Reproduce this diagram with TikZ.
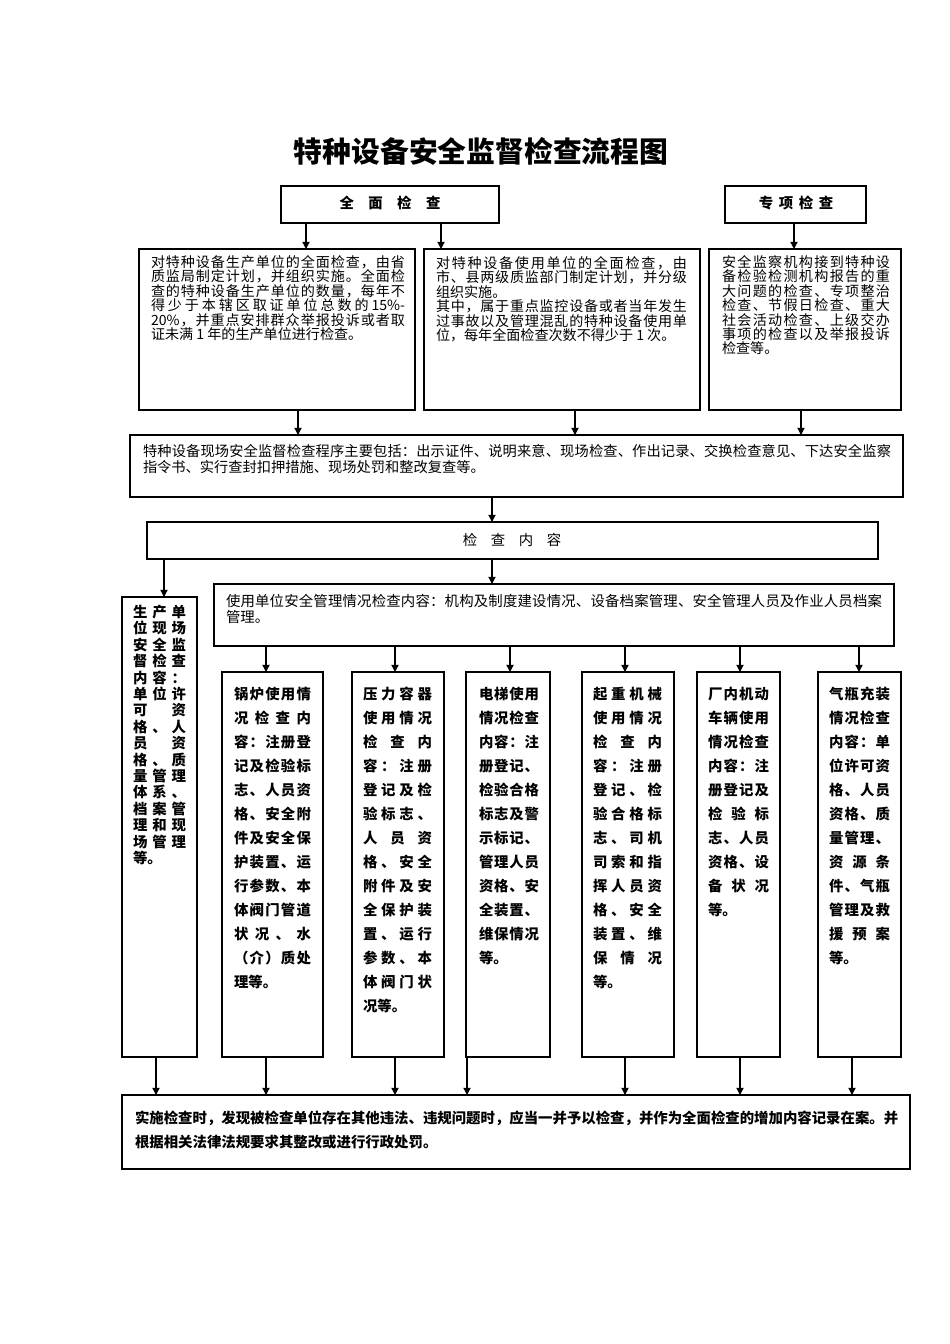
\documentclass[tikz,border=0pt]{standalone}
\usepackage{fontspec}
\setmainfont{Noto Sans CJK SC}
\usetikzlibrary{arrows.meta,fit}
\newdimen\px \px=0.625pt
\def\JLend{JLEND}
\def\JL#1{\hbox to\hsize{\JLa#1\JLend}}
\def\JLa#1{#1\JLb}
\def\JLb#1{\ifx\JLend#1\else\hfill#1\expandafter\JLb\fi}
\def\NL#1{\hbox to\hsize{#1\hfil}}
\newcommand\TB[3]{\vtop{\hsize=#2\px\baselineskip=#1\px\lineskiplimit=-100pt\lineskip=0pt\relax#3}}
\tikzset{
  boxn/.style={draw, line width=0.8pt, inner sep=0pt, outer sep=0pt},
  arr/.style={-{Triangle[length=4.5pt,width=4.5pt]}, line width=0.8pt},
  txt/.style={inner sep=0pt, outer sep=0pt, anchor=base west},
  nine/.style={font=\fontsize{9pt}{11pt}\selectfont},
  nineb/.style={font=\fontsize{9pt}{11pt}\selectfont\bfseries},
  para/.style={font=\fontsize{8.8pt}{11pt}\selectfont},
}
\begin{document}
\begin{tikzpicture}[x=0.625pt,y=-0.625pt]
\useasboundingbox (0,0) rectangle (950,1344);
\fill[white] (0,0) rectangle (950,1344);

% title
\node[inner sep=0pt, font=\fontsize{18pt}{22pt}\selectfont\bfseries] (title) at (481,151) {特种设备安全监督检查流程图};

% top boxes
\node[boxn, fit={(281,186)(499,223)}] (qm) {};
\node[nineb, inner sep=0pt] (qmt) at (390,203) {全\hspace{9pt}面\hspace{9pt}检\hspace{9pt}查};
\node[boxn, fit={(725,186)(866,223)}] (zx) {};
\node[nineb, inner sep=0pt] (zxt) at (796,203) {专\hspace{3.5pt}项\hspace{3.5pt}检\hspace{3.5pt}查};

% row 2
\node[boxn, fit={(139,249)(415,410)}] (A) {};
\node[txt, para] (At) at (151,267.5) {\TB{14.4}{254}{%
\JL{对特种设备生产单位的全面检查，由省}
\JL{质监局制定计划，并组织实施。全面检}
\JL{查的特种设备生产单位的数量，每年不}
\JL{得少于本辖区取证单位总数的{15\%-}}
\JL{{20\%}，并重点安排群众举报投诉或者取}
\NL{证未满 1 年的生产单位进行检查。}}};

\node[boxn, fit={(424,249)(700,410)}] (B) {};
\node[txt, para] (Bt) at (436,268.5) {\TB{14.4}{251}{%
\JL{对特种设备使用单位的全面检查，由}
\JL{市、县两级质监部门制定计划，并分级}
\NL{组织实施。}
\JL{其中，属于重点监控设备或者当年发生}
\JL{过事故以及管理混乱的特种设备使用单}
\NL{位，每年全面检查次数不得少于 1 次。}}};

\node[boxn, fit={(709,249)(901,410)}] (C) {};
\node[txt, para] (Ct) at (722,267.5) {\TB{14.4}{168}{%
\JL{安全监察机构接到特种设}
\JL{备检验检测机构报告的重}
\JL{大问题的检查、专项整治}
\JL{检查、节假日检查、重大}
\JL{社会活动检查、上级交办}
\JL{事项的检查以及举报投诉}
\NL{检查等。}}};

% procedure box
\node[boxn, fit={(130,435)(903,497)}] (D) {};
\node[txt, font=\fontsize{8.9pt}{11pt}\selectfont] (Dt) at (143,456.5) {\TB{16}{748}{%
\JL{特种设备现场安全监督检查程序主要包括：出示证件、说明来意、现场检查、作出记录、交换检查意见、下达安全监察}
\NL{指令书、实行查封扣押措施、现场处罚和整改复查等。}}};

% inspection content
\node[boxn, fit={(147,522)(878,559)}] (E) {};
\node[nine, inner sep=0pt] (Et) at (512,540) {检\hspace{8.5pt}查\hspace{8.5pt}内\hspace{8.5pt}容};

% usage unit box
\node[boxn, fit={(214,584)(894,646)}] (F) {};
\node[txt, nine] (Ft) at (226,606.5) {\TB{16}{656}{%
\JL{使用单位安全管理情况检查内容：机构及制度建设情况、设备档案管理、安全管理人员及作业人员档案}
\NL{管理。}}};

% left column
\node[boxn, fit={(122,597)(197,1057)}] (G) {};
\node[txt, nineb] (Gt) at (133,617.5) {\TB{16.4}{53}{%
\JL{生产单}\JL{位现场}\JL{安全监}\JL{督检查}\JL{内容：}\JL{单位许}\JL{可资}\JL{格、人}\JL{员资}\JL{格、质}\JL{量管理}\JL{体系、}\JL{档案管}\JL{理和现}\JL{场管理}\NL{等。}}};

% six columns
\node[boxn, fit={(222,672)(323,1057)}] (c1) {};
\node[txt, nineb] (c1t) at (234,699.5) {\TB{24}{77}{%
\JL{锅炉使用情}\JL{况检查内}\JL{容：注册登}\JL{记及检验标}\JL{志、人员资}\JL{格、安全附}\JL{件及安全保}\JL{护装置、运}\JL{行参数、本}\JL{体阀门管道}\JL{状况、水}\JL{（介）质处}\NL{理等。}}};

\node[boxn, fit={(352,672)(444,1057)}] (c2) {};
\node[txt, nineb] (c2t) at (363,699.5) {\TB{24}{69}{%
\JL{压力容器}\JL{使用情况}\JL{检查内}\JL{容：注册}\JL{登记及检}\JL{验标志、}\JL{人员资}\JL{格、安全}\JL{附件及安}\JL{全保护装}\JL{置、运行}\JL{参数、本}\JL{体阀门状}\NL{况等。}}};

\node[boxn, fit={(466,672)(550,1057)}] (c3) {};
\node[txt, nineb] (c3t) at (479,699.5) {\TB{24}{60}{%
\JL{电梯使用}\JL{情况检查}\JL{内容：注}\JL{册登记、}\JL{检验合格}\JL{标志及警}\JL{示标记、}\JL{管理人员}\JL{资格、安}\JL{全装置、}\JL{维保情况}\NL{等。}}};

\node[boxn, fit={(582,672)(674,1057)}] (c4) {};
\node[txt, nineb] (c4t) at (593,699.5) {\TB{24}{69}{%
\JL{起重机械}\JL{使用情况}\JL{检查内}\JL{容：注册}\JL{登记、检}\JL{验合格标}\JL{志、司机}\JL{司索和指}\JL{挥人员资}\JL{格、安全}\JL{装置、维}\JL{保情况}\NL{等。}}};

\node[boxn, fit={(697,672)(780,1057)}] (c5) {};
\node[txt, nineb] (c5t) at (708,699.5) {\TB{24}{61}{%
\JL{厂内机动}\JL{车辆使用}\JL{情况检查}\JL{内容：注}\JL{册登记及}\JL{检验标}\JL{志、人员}\JL{资格、设}\JL{备状况}\NL{等。}}};

\node[boxn, fit={(818,672)(901,1057)}] (c6) {};
\node[txt, nineb] (c6t) at (829,699.5) {\TB{24}{61}{%
\JL{气瓶充装}\JL{情况检查}\JL{内容：单}\JL{位许可资}\JL{格、人员}\JL{资格、质}\JL{量管理、}\JL{资源条}\JL{件、气瓶}\JL{管理及救}\JL{援预案}\NL{等。}}};

% bottom box
\node[boxn, fit={(122,1095)(910,1169)}] (H) {};
\node[txt, nineb] (Ht) at (135,1123.5) {\TB{24}{762}{%
\JL{实施检查时，发现被检查单位存在其他违法、违规问题时，应当一并予以检查，并作为全面检查的增加内容记录在案。并}
\NL{根据相关法律法规要求其整改或进行行政处罚。}}};

% connector x positions
\coordinate (a1) at (306,0);
\coordinate (a2) at (441,0);
\coordinate (a3) at (794,0);
\coordinate (b1) at (298,0);
\coordinate (b2) at (575,0);
\coordinate (b3) at (801,0);
\coordinate (m) at (492,0);
\coordinate (g) at (164,0);
\coordinate (f1) at (266,0);
\coordinate (f2) at (395,0);
\coordinate (f3) at (510,0);
\coordinate (f4) at (625,0);
\coordinate (f5) at (740,0);
\coordinate (f6) at (859,0);
\coordinate (h0) at (156,0);
\coordinate (h1) at (266,0);
\coordinate (h2) at (395,0);
\coordinate (h3) at (467,0);
\coordinate (h4) at (625,0);
\coordinate (h5) at (740,0);
\coordinate (h6) at (852,0);

\draw[arr] (qm.south -| a1) -- (A.north -| a1);
\draw[arr] (qm.south -| a2) -- (B.north -| a2);
\draw[arr] (zx.south -| a3) -- (C.north -| a3);
\draw[arr] (A.south -| b1) -- (D.north -| b1);
\draw[arr] (B.south -| b2) -- (D.north -| b2);
\draw[arr] (C.south -| b3) -- (D.north -| b3);
\draw[arr] (D.south -| m) -- (E.north -| m);
\draw[arr] (E.south -| m) -- (F.north -| m);
\draw[arr] (E.south -| g) -- (G.north -| g);
\draw[arr] (F.south -| f1) -- (c1.north -| f1);
\draw[arr] (F.south -| f2) -- (c2.north -| f2);
\draw[arr] (F.south -| f3) -- (c3.north -| f3);
\draw[arr] (F.south -| f4) -- (c4.north -| f4);
\draw[arr] (F.south -| f5) -- (c5.north -| f5);
\draw[arr] (F.south -| f6) -- (c6.north -| f6);
\draw[arr] (G.south -| h0) -- (H.north -| h0);
\draw[arr] (c1.south -| h1) -- (H.north -| h1);
\draw[arr] (c2.south -| h2) -- (H.north -| h2);
\draw[arr] (c3.south -| h3) -- (H.north -| h3);
\draw[arr] (c4.south -| h4) -- (H.north -| h4);
\draw[arr] (c5.south -| h5) -- (H.north -| h5);
\draw[arr] (c6.south -| h6) -- (H.north -| h6);
\end{tikzpicture}
\end{document}
